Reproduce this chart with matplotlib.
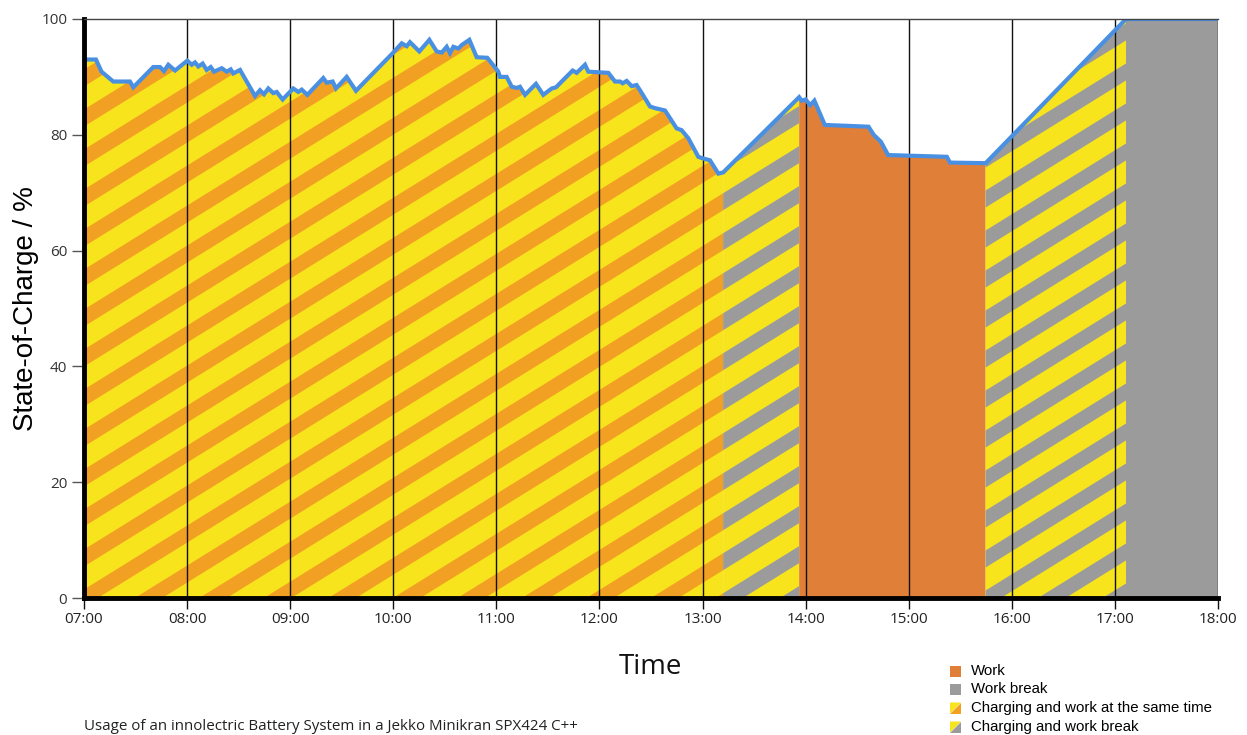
import numpy as np
import matplotlib
matplotlib.use("Agg")
import matplotlib.pyplot as plt
from matplotlib.patches import Polygon
from matplotlib.collections import PolyCollection

# ---------------- data ----------------
time_h = [7.00, 7.116, 7.17, 7.284, 7.446, 7.478, 7.672, 7.737, 7.776, 7.818, 7.883,
          8.002, 8.045, 8.077, 8.109, 8.151, 8.19, 8.229, 8.261, 8.336, 8.384, 8.423,
          8.448, 8.513, 8.578, 8.659, 8.707, 8.746, 8.788, 8.836, 8.869, 8.927,
          9.03, 9.079, 9.112, 9.166, 9.321, 9.354, 9.412, 9.444, 9.548, 9.638,
          10.0, 10.082, 10.13, 10.162, 10.253, 10.35, 10.421, 10.47, 10.518, 10.55,
          10.583, 10.631, 10.664, 10.738, 10.809, 10.912,
          11.019, 11.035, 11.1, 11.149, 11.197, 11.229, 11.278, 11.384, 11.455,
          11.537, 11.578, 11.74, 11.779, 11.86, 11.892, 11.989,
          12.086, 12.151, 12.2, 12.225, 12.264, 12.313, 12.36, 12.393, 12.49,
          12.539, 12.636, 12.749, 12.797, 12.862, 12.959,
          13.007, 13.072, 13.153, 13.2, 13.937, 13.96,
          14.0, 14.044, 14.085, 14.186, 14.61, 14.66, 14.73, 14.80,
          15.37, 15.40, 15.746, 17.108, 18.0]
soc = [93.0, 93.0, 90.9, 89.2, 89.2, 88.2, 91.7, 91.7, 91.0, 92.1, 91.1,
       92.8, 92.1, 92.5, 91.8, 92.3, 91.2, 91.7, 90.9, 91.5, 90.9, 91.3,
       90.6, 91.2, 89.2, 86.7, 87.7, 87.0, 88.0, 87.2, 87.4, 86.1,
       88.0, 87.4, 87.8, 86.9, 89.8, 89.0, 89.2, 88.0, 90.0, 87.6,
       94.2, 95.8, 95.3, 96.0, 94.4, 96.4, 94.4, 94.2, 95.2, 94.1,
       95.2, 94.9, 95.5, 96.4, 93.4, 93.3,
       90.9, 90.0, 90.0, 88.3, 88.1, 88.3, 86.9, 88.8, 86.9,
       88.0, 88.2, 91.1, 90.7, 92.1, 90.9, 90.8,
       90.7, 89.2, 89.2, 88.9, 89.3, 88.4, 88.6, 87.7, 84.9,
       84.6, 84.2, 81.1, 80.8, 79.4, 76.2,
       75.9, 75.6, 73.3, 73.5, 86.5, 85.9,
       86.1, 85.1, 85.9, 81.7, 81.4, 80.0, 78.8, 76.5,
       76.2, 75.2, 75.1, 100.0, 100.0]

# operating modes: (start hour, end hour, mode)
mode_start = [7.0, 13.2, 13.937, 15.746, 17.108]
mode_end = [13.2, 13.937, 15.746, 17.108, 18.0]
mode_kind = ["charge_work", "charge_break", "work", "charge_break", "break"]

hour_ticks = list(range(7, 19))
hour_labels = ["%02d:00" % h for h in hour_ticks]
soc_ticks = [0, 20, 40, 60, 80, 100]

legend_labels = ["Work", "Work break", "Charging and work at the same time",
                 "Charging and work break"]

# ---------------- style ----------------
YELLOW = "#F7E41C"
ORANGE_STRIPE = "#F2A024"
WORK = "#E07F37"
GRAY = "#9B9B9B"
BLUE = "#4A90E2"

W, H = 1247, 735
fig = plt.figure(figsize=(W / 100, H / 100), dpi=100)
L, R, T, B = 84, 1218, 19, 598
ax = fig.add_axes([L / W, 1 - B / H, (R - L) / W, (B - T) / H])
ax.set_xlim(7, 18)
ax.set_ylim(0, 100)

t_arr = np.array(time_h)
s_arr = np.array(soc)


def region_poly(a, b):
    inner = (t_arr > a) & (t_arr < b)
    xs = np.concatenate([[a], t_arr[inner], [b]])
    ys = np.interp(xs, t_arr, s_arr)
    return list(zip(xs, ys)) + [(b, 0), (a, 0)]


# stripe geometry in display pixels
slope = 0.62
period = 40.0
thick = 17.0
inv = ax.transData.inverted()
x0d, y0d = ax.transData.transform((7, 0))
x1d, y1d = ax.transData.transform((18, 100))


def stripes_polys():
    polys = []
    base = y0d - slope * x0d - thick / 2
    cmin = y0d - slope * x1d - period * 2
    cmax = y1d - slope * x0d + period
    k0 = int(np.floor((cmin - base) / period))
    k1 = int(np.ceil((cmax - base) / period))
    for k in range(k0, k1 + 1):
        cc = base + k * period
        pts = [(x0d, slope * x0d + cc), (x1d, slope * x1d + cc),
               (x1d, slope * x1d + cc + thick), (x0d, slope * x0d + cc + thick)]
        polys.append(inv.transform(pts))
    return polys


for a, b, kind in zip(mode_start, mode_end, mode_kind):
    pts = region_poly(a, b)
    if kind == "work":
        ax.add_patch(Polygon(pts, closed=True, facecolor=WORK, edgecolor="none", zorder=1))
    elif kind == "break":
        ax.add_patch(Polygon(pts, closed=True, facecolor=GRAY, edgecolor="none", zorder=1))
    else:
        base_patch = Polygon(pts, closed=True, facecolor=YELLOW, edgecolor="none", zorder=1)
        ax.add_patch(base_patch)
        col = ORANGE_STRIPE if kind == "charge_work" else GRAY
        pc = PolyCollection(stripes_polys(), facecolors=col, edgecolors="none", zorder=1.5)
        ax.add_collection(pc)
        pc.set_clip_path(base_patch)

# vertical hour lines
for h in hour_ticks:
    ax.axvline(h, color="#111111", lw=1.0, zorder=2)

ax.plot(time_h, soc, color=BLUE, lw=3.0, zorder=3, solid_joinstyle="miter")

# axes styling
ax.spines["left"].set_linewidth(3.5)
ax.spines["left"].set_color("black")
ax.spines["bottom"].set_linewidth(3.5)
ax.spines["bottom"].set_color("black")
ax.spines["top"].set_linewidth(1.0)
ax.spines["top"].set_color("#444444")
ax.spines["right"].set_visible(False)
for sp in ax.spines.values():
    sp.set_zorder(4)

ax.set_xticks(hour_ticks)
ax.set_xticklabels(hour_labels, fontfamily="Open Sans", fontsize=11, color="#222222")
ax.set_yticks(soc_ticks)
ax.set_yticklabels([str(v) for v in soc_ticks], fontfamily="Open Sans", fontsize=11,
                   color="#333333")
ax.tick_params(axis="x", length=8, width=1.0, color="#111111", pad=2)
ax.tick_params(axis="y", length=9, width=1.0, color="#555555", pad=3)

ax.set_ylabel("State-of-Charge / %", fontfamily="Liberation Sans", fontsize=20,
              color="black", labelpad=0)
ax.yaxis.set_label_coords(-0.040, 0.5)
fig.text(650 / W, 1 - 667 / H, "Time", fontfamily="Open Sans", fontsize=20,
         ha="center", va="center", color="#111111")
fig.text(84 / W, 1 - 727 / H,
         "Usage of an innolectric Battery System in a Jekko Minikran SPX424 C++",
         fontfamily="Open Sans", fontsize=10.9, ha="left", va="center", color="#222222")


def fp(x, y):
    return (x / W, 1 - y / H)


sq = 11
rows = [671, 689, 708, 727]
lx = 950
for i, (yc, lab) in enumerate(zip(rows, legend_labels)):
    x0, ytop = lx, yc - sq / 2
    corners = [fp(x0, ytop), fp(x0 + sq, ytop), fp(x0 + sq, ytop + sq), fp(x0, ytop + sq)]
    if i < 2:
        fig.patches.append(Polygon(corners, closed=True, facecolor=WORK if i == 0 else GRAY,
                                   edgecolor="none", transform=fig.transFigure))
    else:
        c2 = ORANGE_STRIPE if i == 2 else GRAY
        tl = [fp(x0, ytop), fp(x0 + sq, ytop), fp(x0, ytop + sq)]
        br = [fp(x0 + sq, ytop), fp(x0 + sq, ytop + sq), fp(x0, ytop + sq)]
        fig.patches.append(Polygon(tl, closed=True, facecolor=YELLOW, edgecolor="none",
                                   transform=fig.transFigure))
        fig.patches.append(Polygon(br, closed=True, facecolor=c2, edgecolor="none",
                                   transform=fig.transFigure))
    fig.text(*fp(971, yc), lab, fontfamily="Liberation Sans", fontsize=10.8,
             ha="left", va="center", color="black")

fig.savefig("out.png", dpi=100)
